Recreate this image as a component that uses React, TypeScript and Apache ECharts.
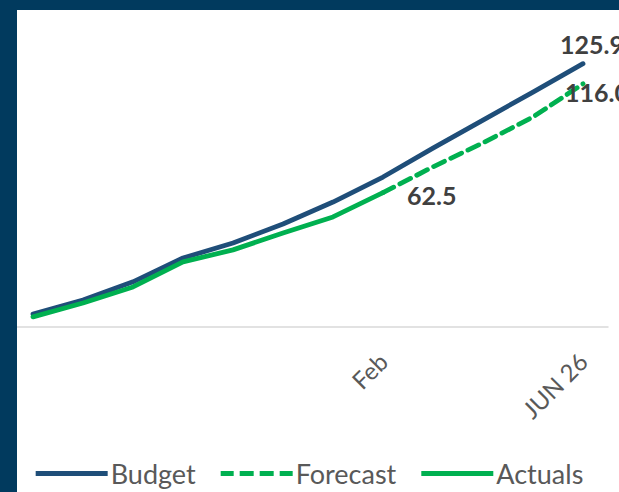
import React, { useEffect, useRef } from "react";
import * as echarts from "echarts";

const categories = ["Jul", "Aug", "Sep", "Oct", "Nov", "Dec", "Jan", "Feb", "Mar", "Apr", "May", "JUN 26"];
const shownTicks = ["Feb", "JUN 26"];
const budget = [2.9, 9.8, 18.7, 30.4, 37.8, 47.1, 57.9, 70.2, 84.4, 98.2, 111.9, 125.9];
const forecast = [null, null, null, null, null, null, null, 62.5, 75.2, 87.0, 99.7, 116.0];
const actuals = [1.5, 8.3, 16.2, 28.5, 34.4, 42.7, 50.6, 62.5];

const NAVY = "#013A5E";
const BLUE = "#1F4E79";
const GREEN = "#00B050";
const FONT = "Lato, 'Open Sans', sans-serif";

const DASH_ICON = "path://M0,0h13v5h-13z M19,0h14v5h-14z M39,0h14v5h-14z M59,0h13v5h-13z";

export default function App() {
  const ref = useRef<HTMLDivElement>(null);
  useEffect(() => {
    document.body.style.margin = "0";
    const chart = echarts.init(ref.current!, null, { renderer: "svg" });
    const labelText = {
      show: true,
      color: "#404040",
      fontFamily: FONT,
      fontWeight: "bold",
      fontSize: 25,
      distance: 0,
      formatter: (p: any) => Number(Array.isArray(p.value) ? p.value[1] : p.value).toFixed(1),
    };
    chart.setOption({
      animation: false,
      backgroundColor: "#ffffff",
      grid: { left: 8, width: 600, top: 35, bottom: 165 },
      xAxis: {
        type: "category",
        data: categories,
        boundaryGap: true,
        axisLine: { show: true, onZero: false, lineStyle: { color: "#D9D9D9", width: 1.5 } },
        axisTick: { show: false },
        axisLabel: {
          interval: (i: number, v: string) => shownTicks.includes(v),
          rotate: 45,
          margin: 30,
          color: "#595959",
          fontFamily: FONT,
          fontSize: 24,
        },
      },
      yAxis: {
        type: "value",
        min: -3.5,
        max: 140,
        show: false,
        splitLine: { show: false },
      },
      legend: {
        top: 455,
        left: "center",
        itemWidth: 72,
        itemHeight: 5,
        itemGap: 25,
        textStyle: { color: "#595959", fontFamily: FONT, fontSize: 27, padding: [0, 0, 0, -2] },
        data: [
          { name: "Budget", icon: "rect", itemStyle: { color: BLUE } },
          { name: "Forecast", icon: DASH_ICON, itemStyle: { color: GREEN } },
          { name: "Actuals", icon: "rect", itemStyle: { color: GREEN } },
        ],
      },
      graphic: [
        { type: "rect", z: 100, shape: { x: 0, y: 0, width: 17, height: 492 }, style: { fill: NAVY } },
        { type: "rect", z: 100, shape: { x: 0, y: 0, width: 619, height: 10 }, style: { fill: NAVY } },
      ],
      series: [
        {
          name: "Budget",
          type: "line",
          symbol: "none",
          data: budget,
          lineStyle: { color: BLUE, width: 4.8, cap: "round", join: "round" },
          itemStyle: { color: BLUE },
          endLabel: { ...labelText, align: "center", verticalAlign: "bottom", offset: [9, -7] },
        },
        {
          name: "Forecast",
          type: "line",
          symbol: "none",
          data: forecast,
          lineStyle: { color: GREEN, width: 4.8, type: [12, 7], cap: "round", join: "round" },
          itemStyle: { color: GREEN },
          endLabel: { ...labelText, align: "center", verticalAlign: "middle", offset: [14, 8] },
        },
        {
          name: "Actuals",
          type: "line",
          symbol: "none",
          data: actuals,
          lineStyle: { color: GREEN, width: 4.8, cap: "round", join: "round" },
          itemStyle: { color: GREEN },
          endLabel: { ...labelText, align: "left", verticalAlign: "middle", offset: [24, 2] },
        },
      ],
    });
    return () => chart.dispose();
  }, []);
  return <div ref={ref} style={{ width: 619, height: 492 }} />;
}
